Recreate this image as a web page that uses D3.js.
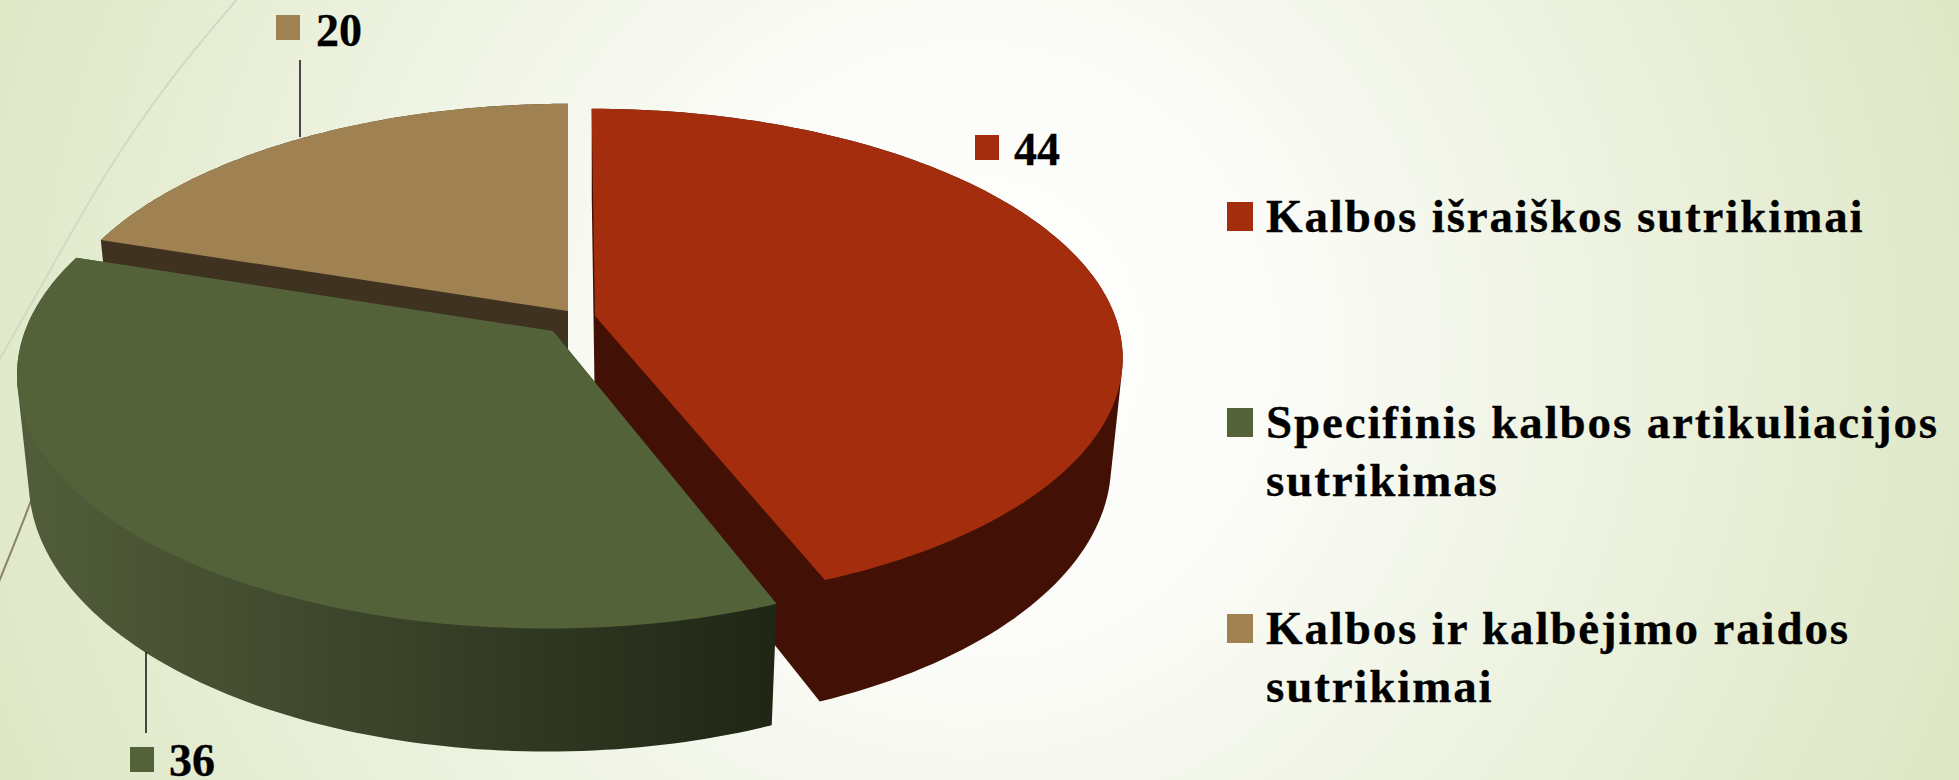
<!DOCTYPE html>
<html>
<head>
<meta charset="utf-8">
<script src="https://cdn.jsdelivr.net/npm/d3@7"></script>
<style>
  html, body { margin: 0; padding: 0; background: #fff; overflow: hidden; }
  text { font-family: "Liberation Serif", serif; font-weight: bold; fill: #000; stroke: #000; stroke-width: 0.3; }
</style>
</head>
<body>
<svg id="chart" width="1959" height="780"></svg>
<script>
const categories = ["Kalbos išraiškos sutrikimai", "Specifinis kalbos artikuliacijos sutrikimas", "Kalbos ir kalbėjimo raidos sutrikimai"];
const legendLines = [["Kalbos išraiškos sutrikimai"], ["Specifinis kalbos artikuliacijos", "sutrikimas"], ["Kalbos ir kalbėjimo raidos", "sutrikimai"]];
const values = [44, 36, 20];
const topColors = ["#a32d0c", "#54623a", "#a08252"];
const sideColors = ["#421005", "url(#greenSide)", "#3f3220"];

const width = 1959, height = 780;
const svg = d3.select("#chart");

// perspective of the tilted pie, it differs a bit per slice in the original
const scaleX = [520, 528, 516], scaleY = [241, 249, 241], skew = [0.016, -0.02, 0];
const persp = 0.163;
const depth = 103, depthShrink = 0.978;
// each slice is pulled out from the middle, so each has its own apex
const apexes = [[595, 316], [553, 331], [568, 311]];

const defs = svg.append("defs");
const bg = defs.append("radialGradient").attr("id", "bg")
    .attr("gradientUnits", "userSpaceOnUse")
    .attr("cx", 970).attr("cy", 350).attr("r", 1080);
bg.append("stop").attr("offset", "0").attr("stop-color", "#ffffff");
bg.append("stop").attr("offset", "0.28").attr("stop-color", "#fbfcf8");
bg.append("stop").attr("offset", "1").attr("stop-color", "#dce6c2");

const greenSide = defs.append("linearGradient").attr("id", "greenSide")
    .attr("gradientUnits", "userSpaceOnUse")
    .attr("x1", 20).attr("x2", 775).attr("y1", 0).attr("y2", 0);
greenSide.append("stop").attr("offset", "0").attr("stop-color", "#525e3a");
greenSide.append("stop").attr("offset", "0.5").attr("stop-color", "#3a4229");
greenSide.append("stop").attr("offset", "1").attr("stop-color", "#1f2615");

svg.append("rect").attr("width", width).attr("height", height).attr("fill", "url(#bg)");

// faint theme lines behind the chart
const curve = d3.line().curve(d3.curveBasis);
svg.append("path")
    .attr("d", curve([[238, -2], [171, 77], [106, 170], [41, 287], [-2, 362]]))
    .attr("fill", "none").attr("stroke", "#d3d8c4").attr("stroke-width", 2);
svg.append("path")
    .attr("d", curve([[32, 498], [20, 530], [-2, 584]]))
    .attr("fill", "none").attr("stroke", "#8b8270").attr("stroke-width", 2);

const project = (i, angle) => {
    const apex = apexes[i];
    const u = Math.sin(angle), v = -Math.cos(angle);
    const w = 1 - persp * v;
    const y = scaleY[i] * v / w;
    return [apex[0] + scaleX[i] * u / w + skew[i] * y, apex[1] + y];
};
const lower = (i, p, angle) => {
    const apex = apexes[i];
    const v = angle === null ? 0 : -Math.cos(angle);
    return [apex[0] + (p[0] - apex[0]) * depthShrink, p[1] + depth / (1 - persp * v)];
};

const pie = d3.pie().sort(null).value(d => d);
const slices = pie(values).map((s, i) => {
    const angles = d3.range(0, 121).map(k => s.startAngle + (s.endAngle - s.startAngle) * k / 120);
    const rim = angles.map(a => project(i, a));
    const topShape = [apexes[i], ...rim];
    const lowShape = [lower(i, apexes[i], null), ...rim.map((p, k) => lower(i, p, angles[k]))];
    return { i, topShape, hull: d3.polygonHull(topShape.concat(lowShape)) };
});

const line = d3.line();
// back slice first, the green one sits in front of the red wall
const order = [2, 0, 1];
order.forEach(i => {
    const s = slices[i];
    svg.append("path").attr("d", line(s.hull) + "Z").attr("fill", sideColors[i]);
    svg.append("path").attr("d", line(s.topShape) + "Z").attr("fill", topColors[i]);
});

// value labels
const labelPos = [[975, 135, 1014, 165], [130, 747, 169, 776], [276, 15, 316, 46]];
values.forEach((v, i) => {
    const p = labelPos[i];
    svg.append("rect").attr("x", p[0]).attr("y", p[1]).attr("width", 24).attr("height", 25).attr("fill", topColors[i]);
    svg.append("text").attr("x", p[2]).attr("y", p[3]).attr("font-size", 46).text(v);
});

// leader lines
const leaders = [[300, 60, 300, 137], [146, 652, 146, 733]];
svg.selectAll(".leader").data(leaders).enter().append("line")
    .attr("class", "leader")
    .attr("x1", d => d[0]).attr("y1", d => d[1]).attr("x2", d => d[2]).attr("y2", d => d[3])
    .attr("stroke", "#111").attr("stroke-width", 1.5);

// legend
const legendY = [232, 438, 644];
categories.forEach((c, i) => {
    svg.append("rect").attr("x", 1227).attr("y", legendY[i] - 30).attr("width", 26).attr("height", 29).attr("fill", topColors[i]);
    legendLines[i].forEach((t, k) => {
        svg.append("text").attr("x", 1266).attr("y", legendY[i] + k * 58)
            .attr("font-size", 47).attr("letter-spacing", 1.85).text(t);
    });
});
</script>
</body>
</html>
